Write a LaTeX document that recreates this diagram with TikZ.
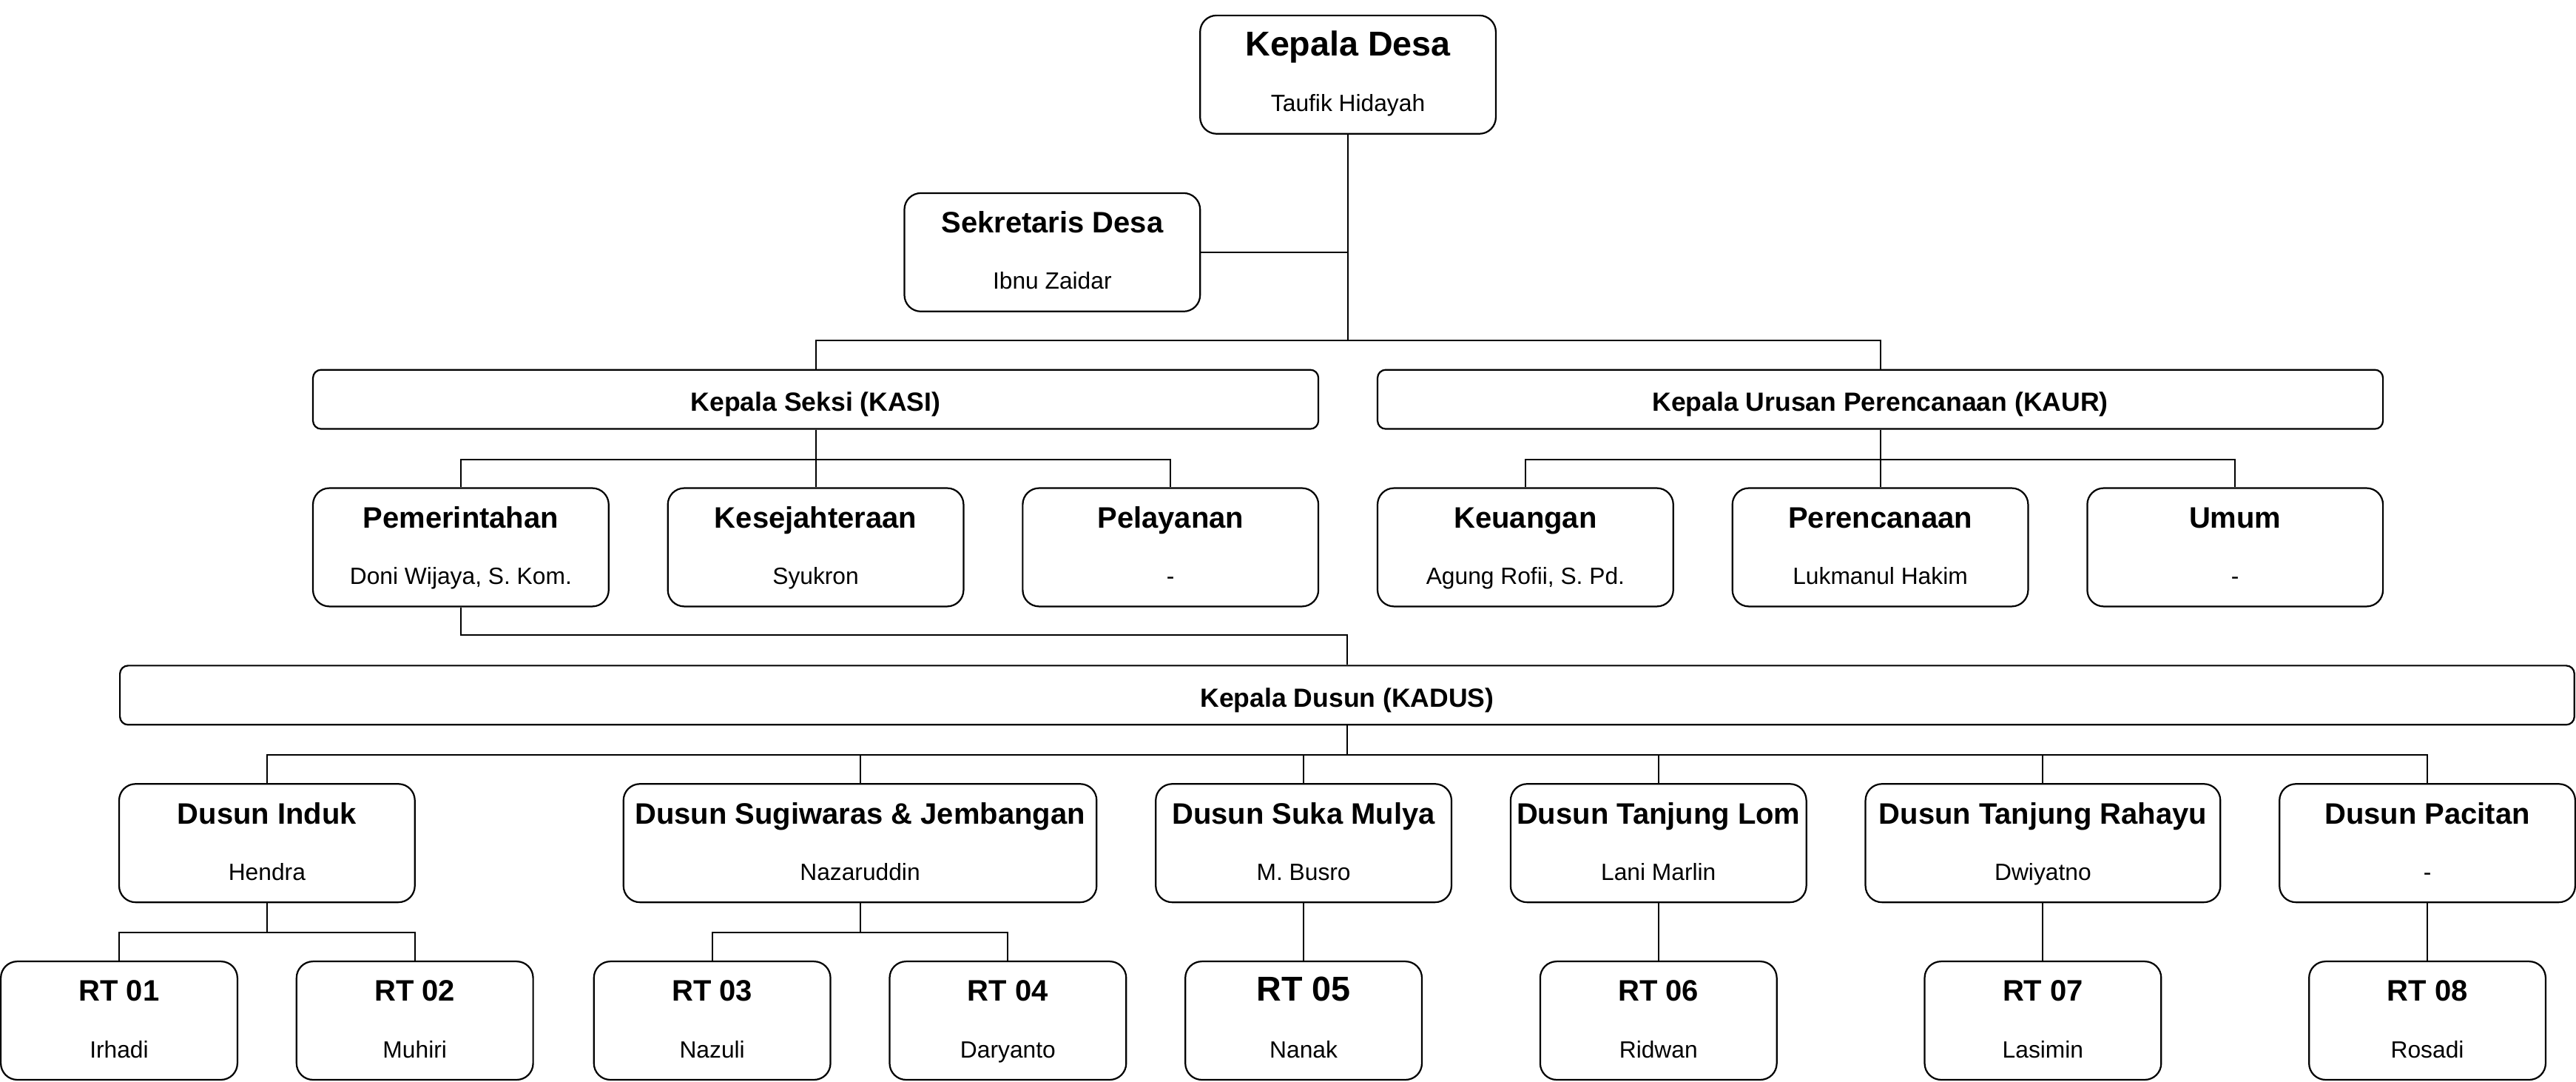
\documentclass[tikz,border=0pt]{standalone}
\usepackage{fontspec}
\setmainfont{Liberation Sans}

\tikzset{
  unit/.style={draw, line width=1pt, rounded corners=10, minimum height=72, inner sep=0pt},
  bar/.style={draw, line width=1pt, rounded corners=5, minimum height=36, inner sep=0pt,
    text height=14.5, text depth=0, font=\bfseries\fontsize{16}{18}\selectfont},
  title/.style={anchor=base, inner sep=0pt, font=\bfseries\fontsize{#1}{#1}\selectfont},
  title/.default=18,
  person/.style={anchor=base, inner sep=0pt, font=\fontsize{14.3}{16}\selectfont},
  link/.style={line width=0.9pt},
}

\begin{document}
\begin{tikzpicture}[x=1pt, y=-1pt]
  \fill[white] (-0.5,0) rectangle (1567.5,658);
  \useasboundingbox (-0.5,0) rectangle (1567.5,658);

  % head of the village and the secretary
  \node[unit, minimum width=180] (kades) at (820,45.4) {};
  \node[title=21] (kades-t) at ([yshift=-25]kades.north) {Kepala Desa};
  \node[person] (kades-p) at ([yshift=-59]kades.north) {Taufik Hidayah};
  \node[unit, minimum width=180] (sekdes) at (640,153.5) {};
  \node[title] (sekdes-t) at ([yshift=-24.7]sekdes.north) {Sekretaris Desa};
  \node[person] (sekdes-p) at ([yshift=-59]sekdes.north) {Ibnu Zaidar};

  % the two wide bars
  \node[bar, minimum width=612] (kasi) at (496,243) {Kepala Seksi (KASI)};
  \node[bar, minimum width=612] (kaur) at (1144,243) {Kepala Urusan Perencanaan (KAUR)};

  % sections under KASI and KAUR
  \foreach \id/\x/\ttl/\who in {
    pem/280/Pemerintahan/{Doni Wijaya, S. Kom.},
    kes/496/Kesejahteraan/Syukron,
    pel/712/Pelayanan/-,
    keu/928/Keuangan/{Agung Rofii, S. Pd.},
    per/1144/Perencanaan/Lukmanul Hakim,
    umum/1360/Umum/-%
  } {
    \node[unit, minimum width=180] (\id) at (\x,333) {};
    \node[title] (\id-t) at ([yshift=-24.7]\id.north) {\ttl};
    \node[person] (\id-p) at ([yshift=-59]\id.north) {\who};
  }

  \node[bar, minimum width=1494] (kadus) at (819.5,423) {Kepala Dusun (KADUS)};

  % the hamlets
  \foreach \id/\x/\w/\ttl/\who in {
    induk/162/180/Dusun Induk/Hendra,
    sug/523/288/Dusun Sugiwaras \& Jembangan/Nazaruddin,
    suka/793/180/Dusun Suka Mulya/M. Busro,
    tlom/1009/180/Dusun Tanjung Lom/Lani Marlin,
    trah/1243/216/Dusun Tanjung Rahayu/Dwiyatno,
    pac/1477/180/Dusun Pacitan/-%
  } {
    \node[unit, minimum width=\w] (\id) at (\x,513) {};
    \node[title] (\id-t) at ([yshift=-24.7]\id.north) {\ttl};
    \node[person] (\id-p) at ([yshift=-59]\id.north) {\who};
  }

  % the RT boxes
  \foreach \id/\x/\s/\ttl/\who in {
    rt1/72/18/RT 01/Irhadi,
    rt2/252/18/RT 02/Muhiri,
    rt3/433/18/RT 03/Nazuli,
    rt4/613/18/RT 04/Daryanto,
    rt5/793/21/RT 05/Nanak,
    rt6/1009/18/RT 06/Ridwan,
    rt7/1243/18/RT 07/Lasimin,
    rt8/1477/18/RT 08/Rosadi%
  } {
    \node[unit, minimum width=144] (\id) at (\x,621) {};
    \node[title=\s] (\id-t) at ([yshift=-24.4]\id.north) {\ttl};
    \node[person] (\id-p) at ([yshift=-59]\id.north) {\who};
  }

  % connectors
  \coordinate (top) at (820,207);
  \draw[link] (kades.south) -- (top);
  \draw[link] (sekdes.east) -- (sekdes.east -| kades.south);
  \draw[link] (kasi.north) |- (top) -| (kaur.north);

  \draw[link] (pem.north) |- ([yshift=-18]kasi.south) -| (pel.north);
  \draw[link] (kasi.south) -- (kes.north);
  \draw[link] (keu.north) |- ([yshift=-18]kaur.south) -| (umum.north);
  \draw[link] (kaur.south) -- (per.north);

  \draw[link] (pem.south) |- ([yshift=18]kadus.north) -- (kadus.north);

  \coordinate (dsn) at ([yshift=-18]kadus.south);
  \draw[link] (kadus.south) -- (dsn);
  \draw[link] (induk.north) |- (dsn) -| (pac.north);
  \foreach \id in {sug,suka,tlom,trah}
    \draw[link] (\id.north) -- (\id.north |- dsn);

  \draw[link] (rt1.north) |- ([yshift=-18]induk.south) -| (rt2.north);
  \draw[link] (induk.south) -- ([yshift=-18]induk.south);
  \draw[link] (rt3.north) |- ([yshift=-18]sug.south) -| (rt4.north);
  \draw[link] (sug.south) -- ([yshift=-18]sug.south);
  \draw[link] (suka.south) -- (rt5.north);
  \draw[link] (tlom.south) -- (rt6.north);
  \draw[link] (trah.south) -- (rt7.north);
  \draw[link] (pac.south) -- (rt8.north);
\end{tikzpicture}
\end{document}
